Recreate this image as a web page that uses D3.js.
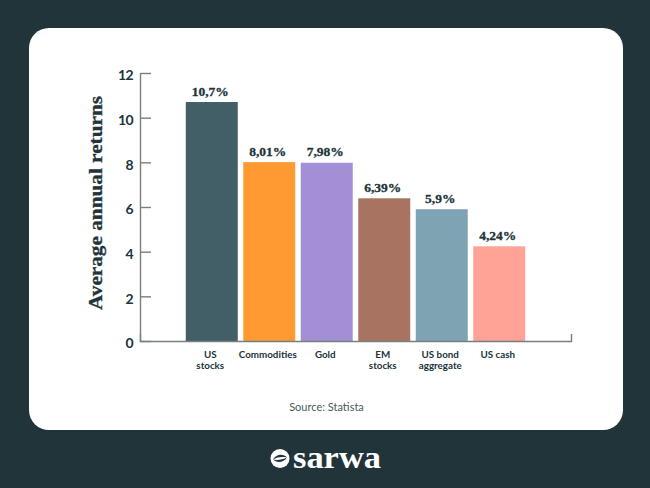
<!DOCTYPE html>
<html>
<head>
<meta charset="UTF-8">
<title>Average annual returns</title>
<script src="https://cdn.jsdelivr.net/npm/d3@7"></script>
<style>
    html, body { margin: 0; padding: 0; background: #20343a; }
    svg { display: block; }
    .sans { font-family: Lato, "Open Sans", sans-serif; }
    .serif { font-family: "Liberation Serif", serif; }
</style>
</head>
<body>
<script>
var categories = ["US stocks", "Commodities", "Gold", "EM stocks", "US bond aggregate", "US cash"];
var categoryLines = [["US", "stocks"], ["Commodities"], ["Gold"], ["EM", "stocks"], ["US bond", "aggregate"], ["US cash"]];
var values = [10.7, 8.01, 7.98, 6.39, 5.9, 4.24];
var valueLabels = ["10,7%", "8,01%", "7,98%", "6,39%", "5,9%", "4,24%"];
var barColors = ["#425e66", "#ff9a33", "#a28fd6", "#a87361", "#7ea3b3", "#ffa396"];
var yTicks = [0, 2, 4, 6, 8, 10, 12];

var dark = "#20343a";
var axisGrey = "#77807f";

var svg = d3.select("body").append("svg")
    .attr("width", 650)
    .attr("height", 488);

svg.append("rect")
    .attr("width", 650).attr("height", 488)
    .attr("fill", dark);

// white card
svg.append("rect")
    .attr("x", 29).attr("y", 28)
    .attr("width", 594).attr("height", 402)
    .attr("rx", 20)
    .attr("fill", "#fff");

var x = d3.scaleBand()
    .domain(categories)
    .range([140, 571])
    .paddingInner(0.096)
    .paddingOuter(0.796);

var y = d3.scaleLinear()
    .domain([0, 12])
    .range([341, 73]);

// bars
svg.selectAll("rect.bar").data(values)
    .enter().append("rect")
    .attr("class", "bar")
    .attr("x", function (d, i) { return x(categories[i]); })
    .attr("y", function (d) { return y(d); })
    .attr("width", x.bandwidth())
    .attr("height", function (d) { return y(0) - y(d); })
    .attr("fill", function (d, i) { return barColors[i]; });

// value labels
svg.selectAll("text.value").data(values)
    .enter().append("text")
    .attr("class", "value serif")
    .attr("x", function (d, i) { return x(categories[i]) + x.bandwidth() / 2 - 1.5; })
    .attr("y", function (d) { return y(d) - 6.5; })
    .attr("text-anchor", "middle")
    .attr("font-size", 13.5)
    .attr("font-weight", "bold")
    .attr("stroke", dark)
    .attr("stroke-width", 0.3)
    .attr("fill", dark)
    .text(function (d, i) { return valueLabels[i]; });

// y axis, ticks point into the plot, labels sit a little below their tick
var yAxis = svg.append("g")
    .attr("transform", "translate(140,0)")
    .call(d3.axisLeft(y).tickValues(yTicks).tickSizeInner(-11).tickSizeOuter(0).tickPadding(7));
yAxis.selectAll("line, path").attr("stroke", axisGrey).attr("stroke-width", 1.4);
yAxis.selectAll("text")
    .attr("class", "sans")
    .attr("font-size", 14)
    .attr("font-weight", "bold")
    .attr("letter-spacing", -0.6)
    .attr("y", 2.5)
    .attr("fill", dark);

// x axis, with the small upward tick at the right end
var xAxis = svg.append("g")
    .attr("transform", "translate(0,341)")
    .call(d3.axisBottom(x).tickSizeInner(0).tickSizeOuter(-7).tickPadding(9));
xAxis.select("path").attr("stroke", axisGrey).attr("stroke-width", 1.4);
xAxis.selectAll("text")
    .attr("class", "sans")
    .attr("font-size", 9.8)
    .attr("font-weight", "bold")
    .attr("fill", dark)
    .attr("dy", null)
    .text(null)
    .each(function (d, i) {
        var label = d3.select(this);
        categoryLines[i].forEach(function (line, k) {
            label.append("tspan")
                .attr("x", -1.5)
                .attr("y", 17 + k * 11)
                .text(line);
        });
    });

svg.append("text")
    .attr("class", "serif")
    .attr("transform", "translate(101.5,203) rotate(-90)")
    .attr("text-anchor", "middle")
    .attr("font-size", 19.5)
    .attr("font-weight", "bold")
    .attr("textLength", 214)
    .attr("lengthAdjust", "spacingAndGlyphs")
    .attr("stroke", dark)
    .attr("stroke-width", 0.3)
    .attr("fill", dark)
    .text("Average annual returns");

svg.append("text")
    .attr("class", "sans")
    .attr("x", 326.5).attr("y", 411)
    .attr("text-anchor", "middle")
    .attr("font-size", 11)
    .attr("fill", "#4a585c")
    .text("Source: Statista");

// logo
var logo = svg.append("g").attr("transform", "translate(280,458.5)");
logo.append("ellipse").attr("rx", 9.5).attr("ry", 9.5).attr("fill", "#fff");
logo.append("path")
    .attr("d", "M-7,1 C-4,-5 4,-5 7,-1 C4,-2 -3,-2 -7,1 Z M-7,1 C-3,5 4,4 7,-1 C3,1 -3,2 -7,1 Z")
    .attr("fill", dark);
svg.append("text")
    .attr("class", "serif")
    .attr("x", 293).attr("y", 468)
    .attr("font-weight", "bold")
    .attr("font-size", 31)
    .attr("textLength", 88)
    .attr("lengthAdjust", "spacingAndGlyphs")
    .attr("fill", "#fff")
    .text("sarwa");
</script>
</body>
</html>
